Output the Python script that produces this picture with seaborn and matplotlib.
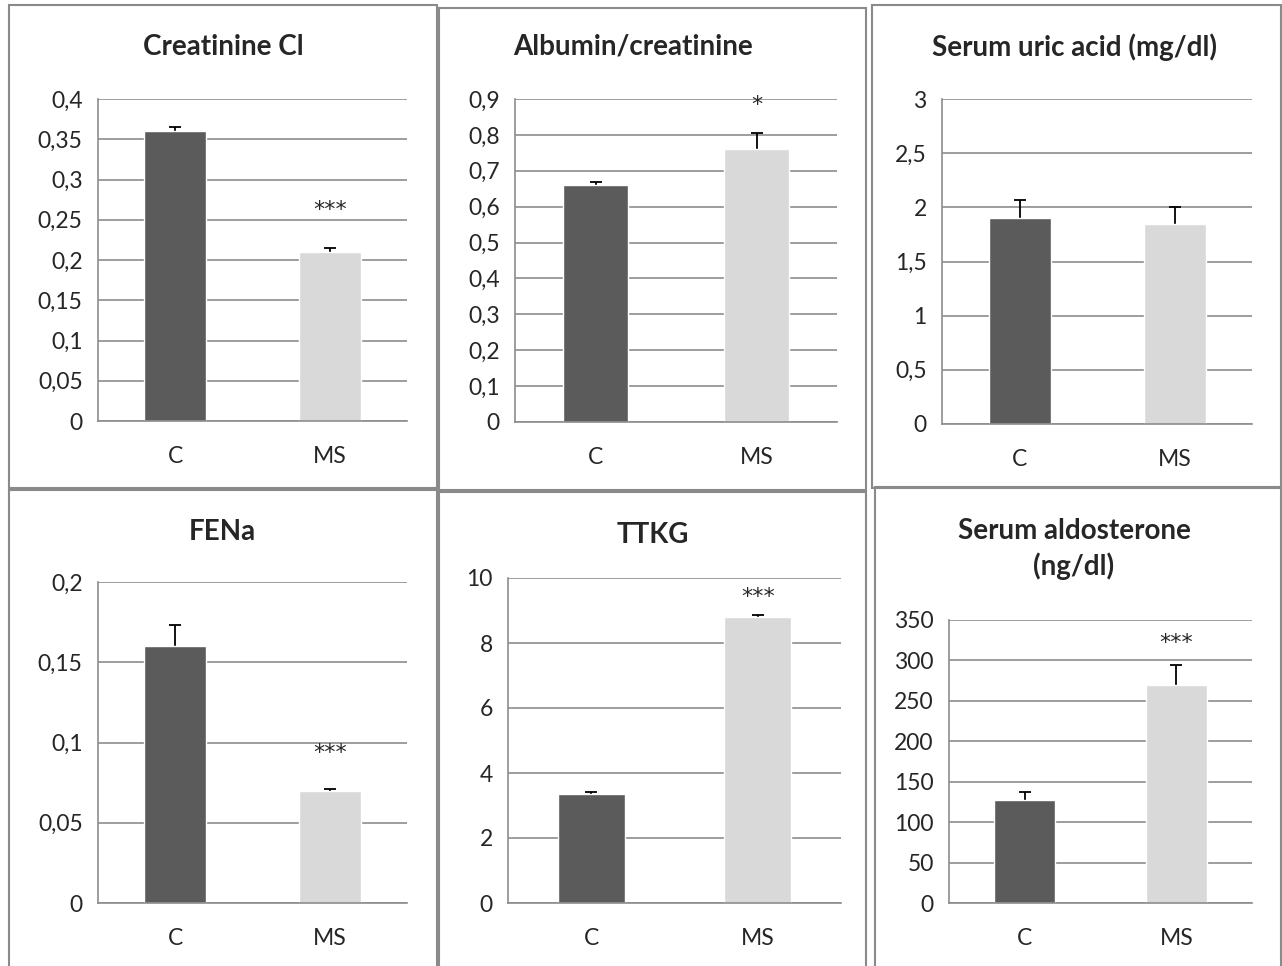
import matplotlib
matplotlib.use("Agg")
import matplotlib.pyplot as plt
from matplotlib.patches import Rectangle
import pandas as pd
import seaborn as sns

groups = ["C", "MS"]

titles = ["Creatinine Cl", "Albumin/creatinine", "Serum uric acid (mg/dl)",
          "FENa", "TTKG", "Serum aldosterone\n(ng/dl)"]
c_mean = [0.36, 0.66, 1.9, 0.16, 3.35, 127]
ms_mean = [0.21, 0.76, 1.85, 0.07, 8.8, 269]
c_err = [0.005, 0.01, 0.17, 0.013, 0.07, 10]
ms_err = [0.005, 0.045, 0.15, 0.0008, 0.07, 25]
stars = ["***", "*", "", "***", "***", "***"]
star_y = [0.262, 0.884, 0, 0.0935, 9.42, 321]

yticks = [
    [0, 0.05, 0.1, 0.15, 0.2, 0.25, 0.3, 0.35, 0.4],
    [0, 0.1, 0.2, 0.3, 0.4, 0.5, 0.6, 0.7, 0.8, 0.9],
    [0, 0.5, 1, 1.5, 2, 2.5, 3],
    [0, 0.05, 0.1, 0.15, 0.2],
    [0, 2, 4, 6, 8, 10],
    [0, 50, 100, 150, 200, 250, 300, 350],
]
ytick_labels = [
    ["0", "0,05", "0,1", "0,15", "0,2", "0,25", "0,3", "0,35", "0,4"],
    ["0", "0,1", "0,2", "0,3", "0,4", "0,5", "0,6", "0,7", "0,8", "0,9"],
    ["0", "0,5", "1", "1,5", "2", "2,5", "3"],
    ["0", "0,05", "0,1", "0,15", "0,2"],
    ["0", "2", "4", "6", "8", "10"],
    ["0", "50", "100", "150", "200", "250", "300", "350"],
]

W, H = 1282, 966
# plot areas and panel boxes in pixels: left, top, right, bottom
axes_px = [(98, 99, 407, 421), (515, 99, 837, 422), (942, 99, 1252, 424),
           (98, 582, 407, 903), (508, 578, 841, 903), (949, 620, 1252, 903)]
boxes_px = [(9, 5, 437, 488), (439, 8, 866, 490), (872, 5, 1281, 488),
            (9, 490, 437, 975), (439, 492, 866, 975), (875, 487, 1281, 975)]
title_px = [(223, 47), (633, 47), (1074, 47), (222, 532), (653, 535), (1074, 549)]

sns.set_style("white")
plt.rcParams["font.family"] = ["Lato", "DejaVu Sans"]

fig = plt.figure(figsize=(W / 100, H / 100), dpi=100)
grid_col = "#8c8c8c"
colors = {"C": "#5b5b5b", "MS": "#d9d9d9"}

for i in range(6):
    l, t, r, b = boxes_px[i]
    fig.add_artist(Rectangle((l / W, 1 - b / H), (r - l) / W, (b - t) / H,
                             transform=fig.transFigure, fill=False,
                             edgecolor="#8a8a8a", linewidth=1.5))

    l, t, r, b = axes_px[i]
    ax = fig.add_axes([l / W, 1 - b / H, (r - l) / W, (b - t) / H])
    df = pd.DataFrame({"group": groups, "value": [c_mean[i], ms_mean[i]]})
    sns.barplot(data=df, x="group", y="value", hue="group", palette=colors,
                width=0.4, errorbar=None, legend=False, ax=ax, zorder=2)
    ax.errorbar([0, 1], [c_mean[i], ms_mean[i]], yerr=[c_err[i], ms_err[i]],
                fmt="none", ecolor="black", elinewidth=1.3, capsize=4,
                capthick=1.3, zorder=1.5)

    ax.set_ylim(yticks[i][0], yticks[i][-1])
    ax.set_xlim(-0.5, 1.5)
    ax.set_yticks(yticks[i])
    ax.set_yticklabels(ytick_labels[i])
    ax.set_xticks([0, 1])
    ax.set_xticklabels(groups)
    ax.set_xticks([-0.5, 0.5, 1.5], minor=True)
    ax.tick_params(axis="x", which="major", length=0, pad=18, labelsize=16.5)
    ax.tick_params(axis="x", which="minor", length=6, width=1.2, color=grid_col)
    ax.tick_params(axis="y", length=7, width=1.2, color=grid_col, labelsize=16.5, pad=4)
    ax.set_xlabel("")
    ax.set_ylabel("")
    ax.set_axisbelow(True)
    ax.yaxis.grid(True, color=grid_col, linewidth=1.2)
    for side in ["top", "right"]:
        ax.spines[side].set_visible(False)
    for side in ["left", "bottom"]:
        ax.spines[side].set_color(grid_col)
        ax.spines[side].set_linewidth(1.2)
    if stars[i]:
        ax.text(1, star_y[i], stars[i], ha="center", va="center", fontsize=16,
                family="DejaVu Sans")

    tx, ty = title_px[i]
    fig.text(tx / W, 1 - ty / H, titles[i], ha="center", va="center",
             fontsize=20, fontweight="bold", linespacing=1.4)

fig.savefig("out.png", dpi=100)
